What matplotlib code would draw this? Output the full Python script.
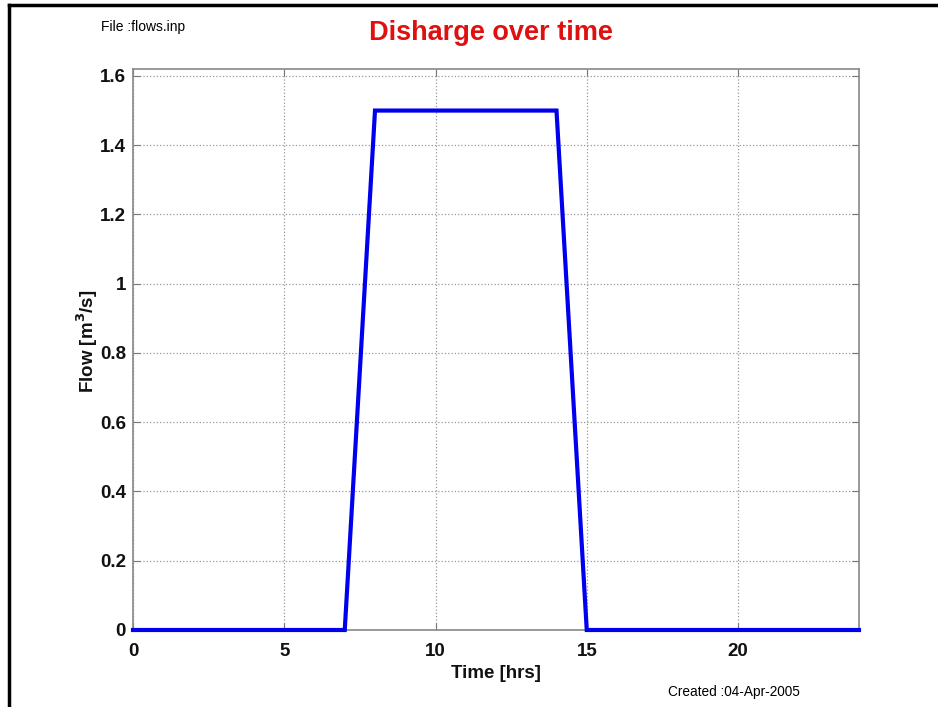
import matplotlib
matplotlib.use('Agg')
from matplotlib import pyplot as plt
from matplotlib.lines import Line2D

plt.rcParams['font.family'] = ['Liberation Sans', 'DejaVu Sans']

# Hydrograph read from flows.inp
time_hrs = [0, 7, 8, 14, 15, 24]
flow = [0, 0, 1.5, 1.5, 0, 0]
x_ticks = [0, 5, 10, 15, 20]
y_ticks = [0, 0.2, 0.4, 0.6, 0.8, 1, 1.2, 1.4, 1.6]
y_tick_labels = ['0', '0.2', '0.4', '0.6', '0.8', '1', '1.2', '1.4', '1.6']

fig = plt.figure(figsize=(9.38, 7.07), dpi=100)
ax = fig.add_axes([133 / 938, 1 - 630 / 707, (859 - 133) / 938, (630 - 69) / 707])

ax.plot(time_hrs, flow, color='#0000ee', linewidth=3, solid_joinstyle='miter', clip_on=False, zorder=3)

ax.set_xlim(0, 24)
ax.set_ylim(0, max(flow) * 1.08)
ax.set_xticks(x_ticks)
ax.set_yticks(y_ticks)
ax.set_yticklabels(y_tick_labels)
ax.grid(True, linestyle=':', color='#999999', linewidth=0.9)
ax.tick_params(direction='in', top=True, right=True, length=5, color='#777777',
               labelsize=13.5)
ax.tick_params(axis='x', pad=9)
ax.tick_params(axis='y', pad=5)
for lab in ax.get_xticklabels() + ax.get_yticklabels():
    lab.set_fontweight('bold')
    lab.set_color('#111111')
for sp in ax.spines.values():
    sp.set_color('#888888')
    sp.set_linewidth(1.2)

ax.set_xlabel('Time [hrs]', fontsize=13.5, fontweight='bold', color='#111111')
ax.set_ylabel('Flow [m$^\\mathbf{3}$/s]', fontsize=13.5, fontweight='bold', color='#111111')
ax.xaxis.set_label_coords(0.5, -0.063)
ax.yaxis.set_label_coords(-0.046, 0.515)

fig.text(491 / 938, 1 - 33 / 707, 'Disharge over time', color='#e01010', fontsize=19.5,
         fontweight='bold', ha='center', va='center')
fig.text(101 / 938, 1 - 27 / 707, 'File :flows.inp', fontsize=10, ha='left', va='center')
fig.text(668 / 938, 1 - 692 / 707, 'Created :04-Apr-2005', fontsize=9.8, ha='left', va='center')

# frame lines at top and left of the window
fig.add_artist(Line2D([9 / 938, 1], [1 - 5 / 707, 1 - 5 / 707], color='black', linewidth=2.5))
fig.add_artist(Line2D([9 / 938, 9 / 938], [0, 1 - 5 / 707], color='black', linewidth=2.5))

fig.savefig('out.png', dpi=100)
